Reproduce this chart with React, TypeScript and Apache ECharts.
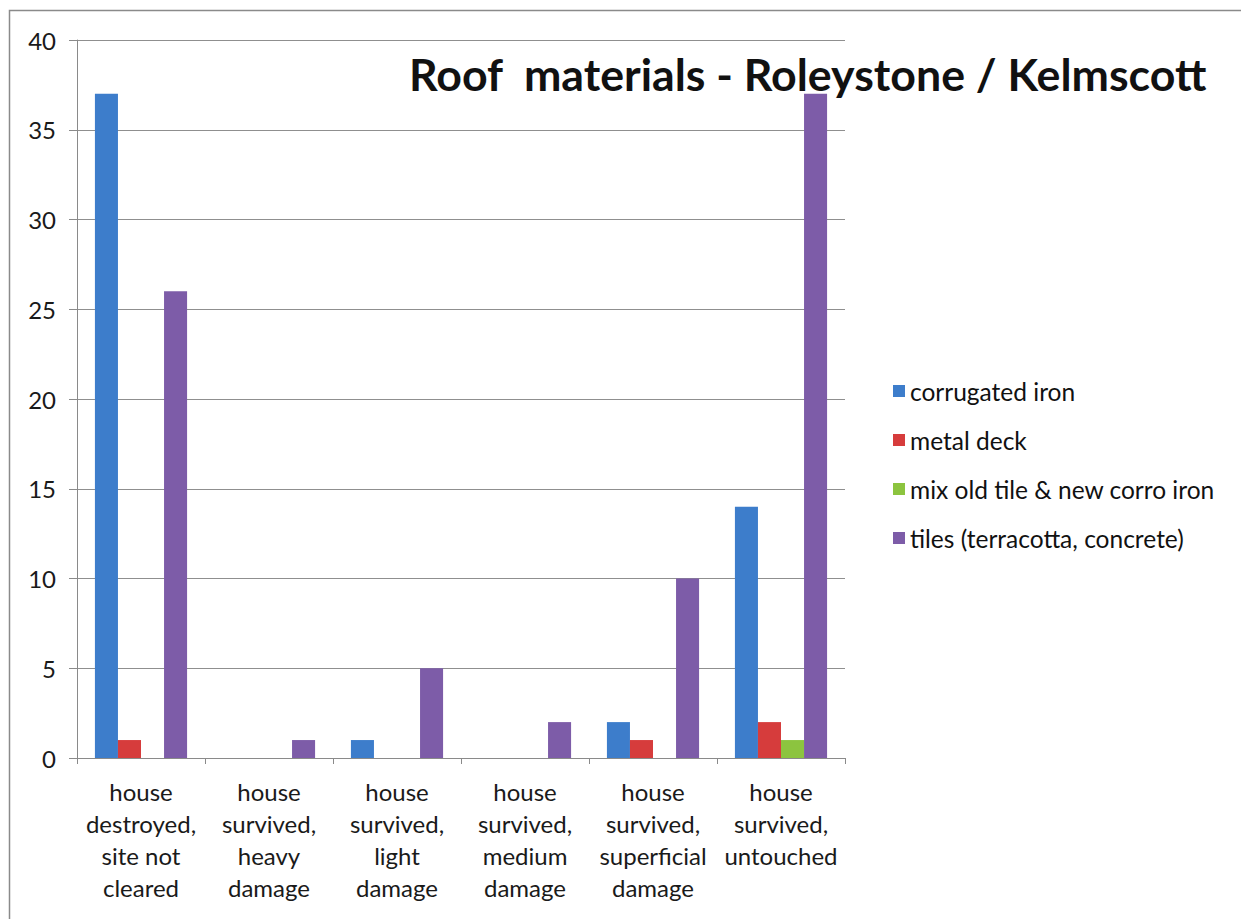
import React, { useEffect, useRef } from "react";
import * as echarts from "echarts";

const categories = [
  "house\ndestroyed,\nsite not\ncleared",
  "house\nsurvived,\nheavy\ndamage",
  "house\nsurvived,\nlight\ndamage",
  "house\nsurvived,\nmedium\ndamage",
  "house\nsurvived,\nsuperficial\ndamage",
  "house\nsurvived,\nuntouched",
];

const corrugatedIron = [37, 0, 1, 0, 2, 14];
const metalDeck = [1, 0, 0, 0, 1, 2];
const mixOldTile = [0, 0, 0, 0, 0, 1];
const tiles = [26, 1, 5, 2, 10, 37];

const seriesNames = [
  "corrugated iron",
  "metal deck",
  "mix old tile & new corro iron",
  "tiles (terracotta, concrete)",
];
const seriesColors = ["#3d7dcb", "#d63c3c", "#8cc43f", "#7d5ca8"];

const FONT = "Lato, Carlito, 'Open Sans', sans-serif";

export default function App() {
  const ref = useRef<HTMLDivElement>(null);

  useEffect(() => {
    if (!ref.current) return;
    const chart = echarts.init(ref.current, null, { renderer: "svg" });
    const values = [corrugatedIron, metalDeck, mixOldTile, tiles];
    chart.setOption({
      animation: false,
      backgroundColor: "#ffffff",
      textStyle: { fontFamily: FONT },
      title: {
        text: "Roof  materials - Roleystone / Kelmscott",
        left: 404,
        top: 46,
        textStyle: { fontSize: 44.7, fontWeight: "bold", color: "#111", fontFamily: FONT },
      },
      graphic: [
        {
          type: "rect",
          shape: { x: 9.5, y: 10.5, width: 1260, height: 940 },
          style: { fill: "none", stroke: "#8a8a8a", lineWidth: 1.5 },
          silent: true,
          z: -1,
        },
      ],
      legend: {
        orient: "vertical",
        left: 888,
        top: 372,
        itemWidth: 12,
        itemHeight: 12,
        itemGap: 21,
        icon: "rect",
        data: seriesNames,
        textStyle: { fontSize: 24.5, color: "#111", fontFamily: FONT, lineHeight: 28, padding: [0, 0, 0, 0] },
      },
      grid: { left: 77, right: 396, top: 40, bottom: 161 },
      xAxis: {
        type: "category",
        data: categories,
        axisLine: { lineStyle: { color: "#8a8a8a", width: 1 } },
        axisTick: { show: true, length: 6, alignWithLabel: false, lineStyle: { color: "#8a8a8a" } },
        axisLabel: {
          interval: 0,
          fontSize: 24,
          lineHeight: 32,
          margin: 17,
          color: "#1a1a1a",
          fontFamily: FONT,
        },
      },
      yAxis: {
        type: "value",
        min: 0,
        max: 40,
        interval: 5,
        axisLine: { show: true, lineStyle: { color: "#8a8a8a", width: 1 } },
        axisTick: { show: true, length: 8, lineStyle: { color: "#8a8a8a" } },
        axisLabel: { fontSize: 24, color: "#1a1a1a", margin: 21, fontFamily: FONT },
        splitLine: { lineStyle: { color: "#8f8f8f", width: 1 } },
      },
      series: seriesNames.map((name, i) => ({
        name,
        type: "bar",
        data: values[i],
        barGap: "0%",
        barCategoryGap: "28%",
        itemStyle: { color: seriesColors[i] },
      })),
    });
    return () => chart.dispose();
  }, []);

  return (
    <div
      ref={ref}
      style={{ position: "absolute", left: 0, top: 0, width: 1241, height: 919 }}
    />
  );
}
